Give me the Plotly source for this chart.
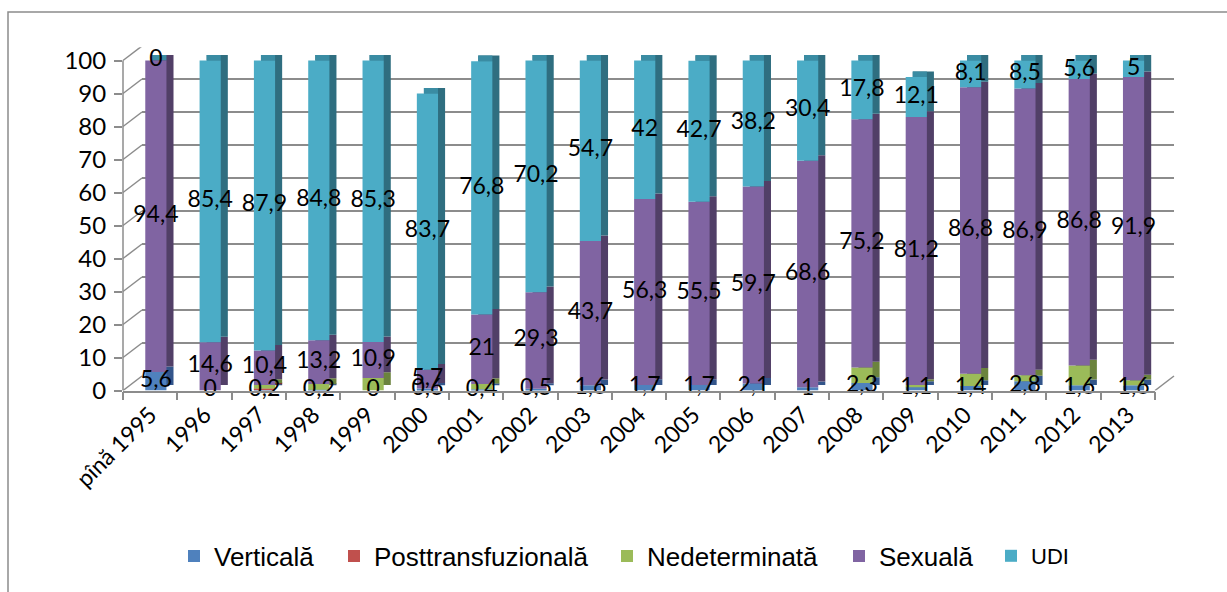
import plotly.graph_objects as go

# ---------------- data ----------------
categories = ["pînă 1995", "1996", "1997", "1998", "1999", "2000", "2001", "2002",
              "2003", "2004", "2005", "2006", "2007", "2008", "2009", "2010",
              "2011", "2012", "2013"]
verticala = [5.6, 0, 0.2, 0.2, 0, 0.6, 0.4, 0.5, 1.6, 1.7, 1.7, 2.1, 1, 2.3, 1.1, 1.4, 2.8, 1.6, 1.6]
posttransfuzionala = [0, 0, 0.4, 0, 0, 0, 0, 0, 0, 0, 0, 0, 0, 0, 0, 0, 0, 0, 0]
nedeterminata = [0, 0, 1.1, 1.8, 3.8, 0, 1.6, 0, 0, 0, 0, 0, 0, 4.7, 0.6, 3.7, 1.8, 6.0, 1.5]
sexuala = [94.4, 14.6, 10.4, 13.2, 10.9, 5.7, 21, 29.3, 43.7, 56.3, 55.5, 59.7, 68.6, 75.2, 81.2, 86.8, 86.9, 86.8, 91.9]
udi = [0, 85.4, 87.9, 84.8, 85.3, 83.7, 76.8, 70.2, 54.7, 42, 42.7, 38.2, 30.4, 17.8, 12.1, 8.1, 8.5, 5.6, 5]
y_ticks = [0, 10, 20, 30, 40, 50, 60, 70, 80, 90, 100]

series_names = ["Verticală", "Posttransfuzională", "Nedeterminată", "Sexuală", "UDI"]
series_values = [verticala, posttransfuzionala, nedeterminata, sexuala, udi]
labelled = [True, False, False, True, True]

# ---------------- style ----------------
front_colors = ["#4f81bd", "#c0504d", "#9bbb59", "#8064a2", "#4bacc6"]
side_colors = ["#33558a", "#7e3432", "#6b833d", "#513f67", "#2f6e80"]
top_color = "#3a8ca3"
legend_fonts = [26, 26, 26, 26, 22]
legend_text_px = [212, 372, 645, 877, 1029]   # left of legend texts (px)

W, H = 1227, 592
FRONT_L, FRONT_R = 123, 1155      # px of front floor edge
BACK_L, BACK_R = 142, 1174        # px of back wall
Y0_FRONT, Y0_BACK = 390.5, 376.0  # px of value 0
PX_PER_UNIT = 3.3
Y2_MAX = 104
GRID = "#8c8c8c"

def px_x(p):
    return p / W

def px_y(p):
    return 1 - p / H

depth_dy = 5.6 / PX_PER_UNIT           # y units
back_dy = (Y0_FRONT - Y0_BACK) / PX_PER_UNIT
front_off, bar_w, depth_dx = -0.09, 0.39, 0.13

n = len(categories)
xs = list(range(n))

# stacking bases
bases = []
run = [0.0] * n
for vals in series_values:
    bases.append(list(run))
    run = [r + v for r, v in zip(run, vals)]
totals = run

fig = go.Figure()

# dummy trace for the back-wall grid subplot
fig.add_trace(go.Scatter(x=[0], y=[0], mode="none", showlegend=False,
                         hoverinfo="skip", xaxis="x", yaxis="y"))

# side faces (boxes shifted back)
for name, vals, base, sc in zip(series_names, series_values, bases, side_colors):
    fig.add_trace(go.Bar(x=xs, y=vals, base=[b + depth_dy for b in base],
                         offset=front_off + depth_dx, width=bar_w,
                         marker=dict(color=sc, line=dict(width=0)),
                         showlegend=False, hoverinfo="skip", xaxis="x2", yaxis="y2"))
# top faces
fig.add_trace(go.Bar(x=xs, y=[depth_dy] * n, base=totals,
                     offset=front_off + depth_dx, width=bar_w - depth_dx,
                     marker=dict(color=top_color, line=dict(width=0)),
                     showlegend=False, hoverinfo="skip", xaxis="x2", yaxis="y2"))
# front faces, each with its own legend box
legend_layouts = {}
for k, (name, vals, base, fc, fs, tx) in enumerate(zip(series_names, series_values, bases,
                                                     front_colors, legend_fonts, legend_text_px)):
    lid = "legend" if k == 0 else f"legend{k + 1}"
    fig.add_trace(go.Bar(x=xs, y=vals, base=base, name=name,
                         offset=front_off, width=bar_w,
                         marker=dict(color=fc, line=dict(width=0)),
                         legend=lid, xaxis="x2", yaxis="y2"))
    legend_layouts[lid] = dict(orientation="h", x=px_x(tx - 38), xanchor="left",
                               y=px_y(556), yanchor="middle",
                               font=dict(family="Liberation Sans", size=fs, color="black"),
                               bgcolor="rgba(0,0,0,0)")
# data labels
for name, vals, base, lab in zip(series_names, series_values, bases, labelled):
    if not lab:
        continue
    fig.add_trace(go.Scatter(
        x=[i + front_off + bar_w / 2 for i in xs],
        y=[b + v / 2 for b, v in zip(base, vals)],
        text=[f"{v:g}".replace(".", ",") for v in vals],
        mode="text", textposition="middle center",
        textfont=dict(family="Lato", size=23, color="black"),
        cliponaxis=False, showlegend=False, hoverinfo="skip",
        xaxis="x2", yaxis="y2"))

shapes = []
# left wall diagonals
for v in y_ticks:
    shapes.append(dict(type="line", xref="paper", yref="y2",
                       x0=px_x(FRONT_L), y0=v, x1=px_x(BACK_L), y1=v + back_dy,
                       line=dict(color=GRID, width=1.5), layer="below"))
# left axis line
shapes.append(dict(type="line", xref="paper", yref="y2",
                   x0=px_x(FRONT_L), y0=0, x1=px_x(FRONT_L), y1=y_ticks[-1],
                   line=dict(color=GRID, width=1.5)))
# right floor diagonal
shapes.append(dict(type="line", xref="paper", yref="y2",
                   x0=px_x(FRONT_R), y0=0, x1=px_x(BACK_R), y1=back_dy,
                   line=dict(color=GRID, width=1.5), layer="below"))
# chart frame
shapes.append(dict(type="rect", xref="paper", yref="paper",
                   x0=px_x(8), y0=-0.05, x1=1.05, y1=px_y(12),
                   line=dict(color=GRID, width=1.5), fillcolor="rgba(0,0,0,0)"))

fig.update_layout(
    width=W, height=H,
    template="none",
    paper_bgcolor="white", plot_bgcolor="rgba(0,0,0,0)",
    margin=dict(l=0, r=0, t=0, b=0),
    barmode="overlay",
    showlegend=True,
    font=dict(family="Lato", size=22, color="black"),
    xaxis=dict(domain=[px_x(BACK_L), px_x(BACK_R)], range=[0, 1],
               showgrid=False, zeroline=False, showline=False,
               showticklabels=False, ticks="", automargin=False, fixedrange=True),
    yaxis=dict(domain=[px_y(Y0_BACK), px_y(Y0_BACK - 100 * PX_PER_UNIT)], range=[0, 100],
               tickvals=y_ticks, showgrid=True, gridcolor=GRID, gridwidth=1.5,
               zeroline=False, showline=False, showticklabels=False, ticks="",
               automargin=False, fixedrange=True),
    xaxis2=dict(domain=[px_x(FRONT_L), px_x(FRONT_R)], range=[-0.5, n - 0.5],
                anchor="y2", tickvals=xs, ticktext=categories, tickangle=-45,
                ticks="", showgrid=False, zeroline=False,
                showline=True, linecolor=GRID, linewidth=1.5,
                minor=dict(tickvals=[i - 0.5 for i in range(n + 1)], ticks="outside",
                           ticklen=8, tickcolor=GRID, tickwidth=1.5, showgrid=False),
                tickfont=dict(family="Lato", size=23, color="black"),
                automargin=False, fixedrange=True),
    yaxis2=dict(domain=[px_y(Y0_FRONT), px_y(Y0_FRONT - Y2_MAX * PX_PER_UNIT)],
                range=[0, Y2_MAX], anchor="x2", tickvals=y_ticks,
                ticks="outside", ticklen=8, tickcolor=GRID, tickwidth=1.5,
                showgrid=False, zeroline=False, showline=False,
                ticklabelstandoff=3,
                tickfont=dict(family="Lato", size=24, color="black"),
                automargin=False, fixedrange=True),
    shapes=shapes,
    **legend_layouts,
)

fig.write_html("out.html", config={"displayModeBar": False},
               post_script="document.body.style.margin='0px';")
